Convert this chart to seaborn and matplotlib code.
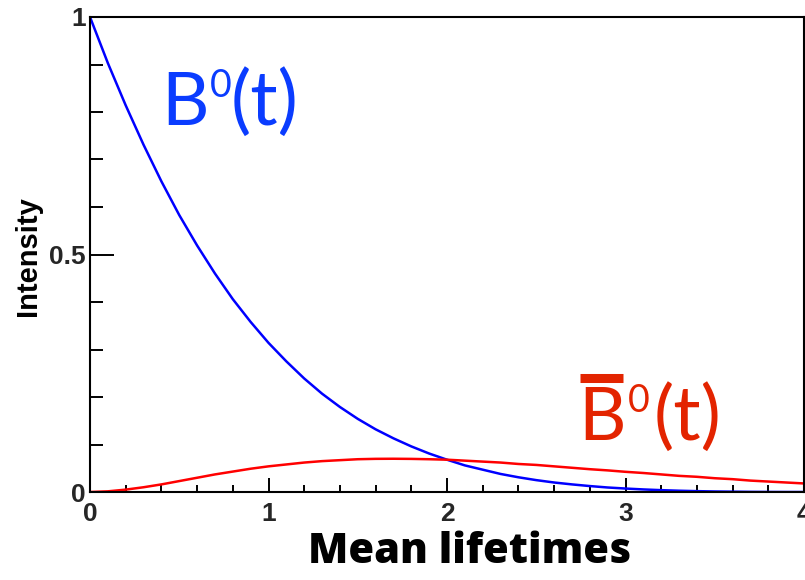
import matplotlib
matplotlib.use("Agg")
import matplotlib.pyplot as plt
from matplotlib.lines import Line2D
from matplotlib.ticker import MultipleLocator
import seaborn as sns
import pandas as pd

# ---- data ----
t_values = [0.0, 0.1, 0.2, 0.3, 0.4, 0.5, 0.6, 0.7, 0.8, 0.9,
            1.0, 1.1, 1.2, 1.3, 1.4, 1.5, 1.6, 1.7, 1.8, 1.9,
            2.0, 2.1, 2.2, 2.3, 2.4, 2.5, 2.6, 2.7, 2.8, 2.9,
            3.0, 3.1, 3.2, 3.3, 3.4, 3.5, 3.6, 3.7, 3.8, 3.9, 4.0]
b0_values = [1.000, 0.903, 0.814, 0.731, 0.654, 0.583, 0.519, 0.460, 0.406, 0.358,
             0.314, 0.275, 0.239, 0.207, 0.179, 0.154, 0.132, 0.113, 0.096, 0.081,
             0.068, 0.056, 0.047, 0.038, 0.031, 0.025, 0.020, 0.016, 0.0125, 0.0095,
             0.0073, 0.0054, 0.0039, 0.0027, 0.0018, 0.0011, 0.0007, 0.0003, 0.0001, 0.0, 0.0]
b0bar_values = [0.000, 0.0014, 0.005, 0.010, 0.016, 0.023, 0.030, 0.037, 0.043, 0.049,
                0.054, 0.058, 0.062, 0.065, 0.067, 0.069, 0.0698, 0.070, 0.0697, 0.069,
                0.068, 0.066, 0.064, 0.062, 0.059, 0.057, 0.054, 0.051, 0.048, 0.0455,
                0.0425, 0.040, 0.037, 0.034, 0.032, 0.029, 0.027, 0.024, 0.022, 0.020, 0.018]
series_names = ["B0", "B0bar"]
x_ticks = [0, 1, 2, 3, 4]
y_ticks = [0, 0.5, 1]
y_tick_labels = ["0", "0.5", "1"]
x_label = "Mean lifetimes"
y_label = "Intensity"

df = pd.DataFrame({
    "t": t_values + t_values,
    "intensity": b0_values + b0bar_values,
    "series": [series_names[0]] * len(t_values) + [series_names[1]] * len(t_values),
})

sns.set_style("white")
plt.rcParams["font.family"] = ["Liberation Sans", "DejaVu Sans"]

W, H = 805, 580
fig = plt.figure(figsize=(W / 100, H / 100), dpi=100)
fig.patch.set_facecolor("white")
ax_l, ax_r, ax_t, ax_b = 90, 804, 17, 492
ax = fig.add_axes([ax_l / W, 1 - ax_b / H, (ax_r - ax_l) / W, (ax_b - ax_t) / H])

sns.lineplot(data=df, x="t", y="intensity", hue="series",
             palette={"B0": "#0000ff", "B0bar": "#ff0000"},
             linewidth=1.8, legend=False, ax=ax, zorder=2)

ax.set_xlim(0, 4)
ax.set_ylim(0, 1)
ax.set_xlabel("")
ax.set_ylabel("")
ax.set_xticks(x_ticks)
ax.set_xticklabels([str(v) for v in x_ticks])
ax.set_yticks(y_ticks)
ax.set_yticklabels(y_tick_labels)
ax.xaxis.set_minor_locator(MultipleLocator(0.2))
ax.yaxis.set_minor_locator(MultipleLocator(0.1))
ax.tick_params(which="both", bottom=True, left=True, top=False, right=False)
ax.tick_params(axis="x", which="major", direction="in", length=10, width=1.4,
               pad=7, labelsize=19, color="black")
ax.tick_params(axis="x", which="minor", direction="in", length=5, width=1.4, color="black")
ax.tick_params(axis="y", which="major", direction="in", length=17, width=1.4,
               pad=3, labelsize=19, color="black")
ax.tick_params(axis="y", which="minor", direction="in", length=9, width=1.4, color="black")
for lab in ax.get_xticklabels() + ax.get_yticklabels():
    lab.set_fontweight("bold")
for s in ax.spines.values():
    s.set_visible(True)
    s.set_color("black")
    s.set_linewidth(1.5)
    s.set_zorder(3)

def fx(px):
    return px / W

def fy(py):
    return 1 - py / H

# axis titles
fig.text(fx(470), fy(563), x_label, ha="center", va="baseline",
         fontsize=30, fontweight="heavy", family=["Open Sans", "DejaVu Sans"], color="black")
fig.text(fx(28), fy(256), y_label, ha="center", va="center", rotation=90,
         fontsize=21, fontweight="bold", color="black")

# B0(t) label (blue)
blue_txt = "#0a3cff"
fig.text(fx(161), fy(125), "B", ha="left", va="baseline", fontsize=53,
         family=["Lato", "DejaVu Sans"], color=blue_txt)
fig.text(fx(210), fy(68), "0", ha="left", va="top", fontsize=27,
         family=["Lato", "DejaVu Sans"], color=blue_txt)
fig.text(fx(231), fy(125), "(t)", ha="left", va="baseline", fontsize=55,
         family=["Lato", "DejaVu Sans"], color=blue_txt)

# B0bar(t) label (red)
red_txt = "#e32400"
fig.text(fx(578), fy(440), "B", ha="left", va="baseline", fontsize=53,
         family=["Lato", "DejaVu Sans"], color=red_txt)
fig.add_artist(Line2D([fx(580), fx(623)], [fy(377.5), fy(377.5)],
                      transform=fig.transFigure, color=red_txt, linewidth=6.5,
                      solid_capstyle="butt"))
fig.text(fx(628), fy(383), "0", ha="left", va="top", fontsize=27,
         family=["Lato", "DejaVu Sans"], color=red_txt)
fig.text(fx(654), fy(440), "(t)", ha="left", va="baseline", fontsize=55,
         family=["Lato", "DejaVu Sans"], color=red_txt)

fig.savefig("out.png", dpi=100, facecolor="white")
